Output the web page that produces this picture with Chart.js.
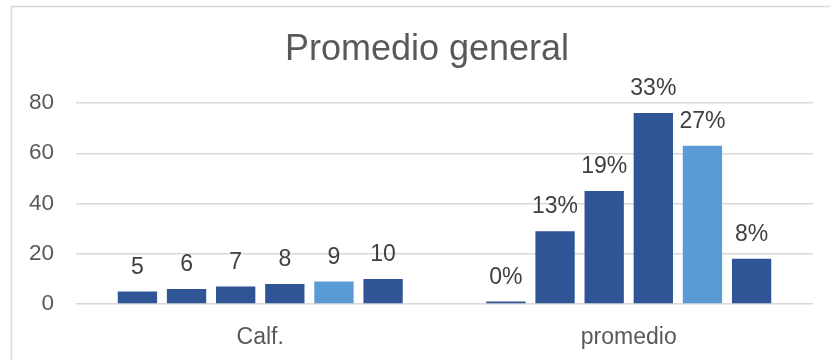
<!DOCTYPE html>
<html>
<head>
<meta charset="utf-8">
<script src="https://cdn.jsdelivr.net/npm/chart.js@4/dist/chart.umd.min.js"></script>
<style>
  html, body { margin: 0; padding: 0; background: #ffffff; }
  #wrap { width: 830px; height: 360px; position: relative; }
</style>
</head>
<body>
<div id="wrap"><canvas id="c" width="830" height="360"></canvas></div>
<script>
const chartTitle = 'Promedio general';
const categories = ['Calf.', 'promedio'];
const calfValues = [5, 6, 7, 8, 9, 10];
const promedioValues = [1, 29, 45, 76, 63, 18];
const calfLabels = ['5', '6', '7', '8', '9', '10'];
const promedioLabels = ['0%', '13%', '19%', '33%', '27%', '8%'];
const yTicks = [0, 20, 40, 60, 80];

const dark = '#2F5597';
const light = '#5B9BD5';
const seriesColors = [dark, dark, dark, dark, light, dark];

const datasets = calfValues.map((v, i) => ({
  label: 'Serie ' + (i + 1),
  data: [calfValues[i], promedioValues[i]],
  pointLabels: [calfLabels[i], promedioLabels[i]],
  backgroundColor: seriesColors[i],
  borderWidth: 0,
  categoryPercentage: 0.8,
  barPercentage: 0.8
}));

const FONT = '"Liberation Sans", Arial, sans-serif';

const decorPlugin = {
  id: 'decor',
  beforeDraw(chart) {
    const ctx = chart.ctx;
    ctx.save();
    ctx.fillStyle = '#ffffff';
    ctx.fillRect(0, 0, chart.width, chart.height);
    ctx.strokeStyle = '#d9d9d9';
    ctx.lineWidth = 1.5;
    ctx.strokeRect(11.5, 6.5, 840, 400);
    ctx.fillStyle = '#595959';
    ctx.font = '36px ' + FONT;
    ctx.textAlign = 'center';
    ctx.textBaseline = 'alphabetic';
    ctx.fillText(chartTitle, 427, 60);
    ctx.restore();
  },
  afterDatasetsDraw(chart) {
    const ctx = chart.ctx;
    ctx.save();
    ctx.fillStyle = '#404040';
    ctx.font = '23px ' + FONT;
    ctx.textAlign = 'center';
    ctx.textBaseline = 'middle';
    chart.data.datasets.forEach((ds, di) => {
      const meta = chart.getDatasetMeta(di);
      meta.data.forEach((bar, i) => {
        ctx.fillText(ds.pointLabels[i], bar.x, bar.y - 24);
      });
    });
    ctx.restore();
  }
};

new Chart(document.getElementById('c'), {
  type: 'bar',
  data: { labels: categories, datasets },
  options: {
    responsive: false,
    animation: false,
    devicePixelRatio: 1,
    layout: { padding: { top: 103, right: 17, bottom: 0, left: 0 } },
    plugins: {
      legend: { display: false },
      title: { display: false },
      tooltip: { enabled: false }
    },
    scales: {
      x: {
        grid: { display: false },
        border: { display: false },
        ticks: { color: '#595959', font: { size: 23, family: FONT }, padding: 12 },
        afterFit(scale) { scale.height = 56; }
      },
      y: {
        min: 0,
        max: 80,
        afterBuildTicks(scale) { scale.ticks = yTicks.map(v => ({ value: v })); },
        grid: { color: '#d9d9d9', lineWidth: 1.5, drawTicks: false },
        border: { display: false },
        ticks: { color: '#595959', font: { size: 22.5, family: FONT }, padding: 22 },
        afterFit(scale) { scale.width = 76; }
      }
    }
  },
  plugins: [decorPlugin]
});
</script>
</body>
</html>
